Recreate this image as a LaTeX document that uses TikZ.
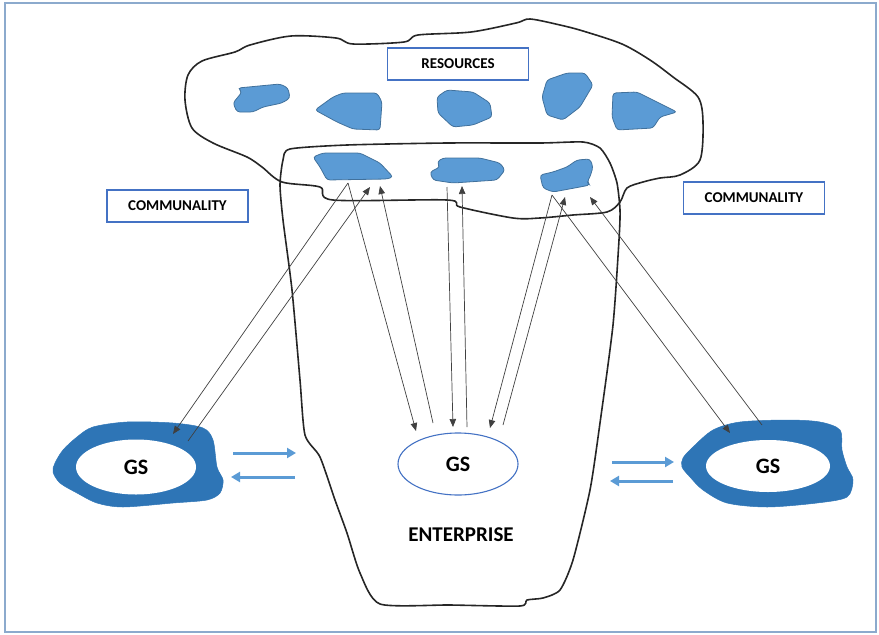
\documentclass[tikz,border=0pt]{standalone}
\usepackage{fontspec}
\setmainfont{Carlito}
\usetikzlibrary{arrows.meta,shapes.geometric}

\definecolor{resblue}{RGB}{91,155,213}
\definecolor{resedge}{RGB}{65,113,156}
\definecolor{ringblue}{RGB}{46,117,182}
\definecolor{boxblue}{RGB}{68,114,196}
\definecolor{framecol}{RGB}{140,170,205}

\begin{document}
\begin{tikzpicture}[x=1pt, y=-1pt,
    outline/.style={draw=black!85, line width=1.6pt, line join=round},
    resource/.style={fill=resblue, draw=resedge, line width=0.8pt, rounded corners=3pt},
    ring/.style={fill=ringblue, draw=ringblue, line width=0.5pt},
    tagbox/.style={draw=boxblue, line width=1.2pt, fill=white, minimum width=141pt,
        minimum height=32pt, inner sep=0pt, font=\fontsize{15}{18}\selectfont\bfseries},
    gs/.style={ellipse, fill=white, inner sep=0pt, font=\fontsize{22}{26}\selectfont\bfseries},
    link/.style={draw=black!75, line width=0.7pt, -{Triangle[length=8pt,width=6.5pt]}},
    flow/.style={draw=resblue, line width=3pt, -{Triangle[length=9pt,width=10pt]}}]

    \useasboundingbox (0,0) rectangle (879,635);
    \draw[framecol, line width=1.5pt] (5,3) rectangle (876,632);

    % resources cloud and enterprise
    \draw[outline] plot[smooth cycle, tension=0.5] coordinates {
        (282,182) (262,167) (247,157) (213,143) (192,128) (185,100) (188,75)
        (202,61) (235,52) (250,45) (291,36) (336,38) (353,44) (404,42) (418,35)
        (471,32) (516,23) (530,19) (560,25) (583,31) (622,44) (650,60) (673,77)
        (698,97) (703,122) (700,160) (680,175) (660,178) (643,182) (627,188)
        (620,202) (607,212) (573,215) (540,218) (513,218) (460,207) (447,200)
        (333,200) (320,187)};
    \draw[outline] plot[smooth cycle, tension=0.4] coordinates {
        (280,185) (283,160) (290,149) (347,145) (447,143) (540,143) (583,142)
        (600,148) (610,163) (617,183) (620,210) (619,240) (613,325) (600,423)
        (590,490) (573,560) (560,590) (543,598) (527,600) (520,606) (450,605)
        (380,604) (360,573) (347,533) (335,500) (320,457) (305,435) (300,380)
        (292,290) (283,220)};

    \draw[resource] (238,88) -- (280,84) -- (288,88) -- (290,98) -- (282,103) -- (263,107)
        -- (253,112) -- (237,112) -- (233,103) -- (238,97) -- (242,92) -- cycle;
    \draw[resource] (315,110) -- (333,97) -- (343,93) -- (377,93) -- (382,102) -- (380,130)
        -- (353,129) -- (337,122) -- cycle;
    \draw[resource] (437,97) -- (447,90) -- (473,92) -- (490,103) -- (492,117) -- (473,125)
        -- (453,127) -- (438,113) -- cycle;
    \draw[resource] (547,80) -- (567,73) -- (585,73) -- (593,85) -- (580,107) -- (563,120)
        -- (547,115) -- (542,97) -- cycle;
    \draw[resource] (613,93) -- (637,92) -- (677,112) -- (660,117) -- (653,128) -- (617,130)
        -- (612,117) -- cycle;
    \draw[resource] (313,157) -- (323,153) -- (337,153) -- (360,153) -- (380,163) -- (393,177)
        -- (387,179) -- (327,180) -- (320,167) -- cycle;
    \draw[resource] (437,162) -- (443,158) -- (480,158) -- (500,163) -- (505,170) -- (497,180)
        -- (453,183) -- (433,180) -- (430,172) -- (440,167) -- cycle;
    \draw[resource] (540,175) -- (553,172) -- (567,167) -- (577,160) -- (590,159) -- (593,167)
        -- (590,177) -- (587,182) -- (590,185) -- (580,187) -- (553,192) -- (543,188) -- cycle;

    % rings
    \draw[ring] plot[smooth cycle, tension=0.5] coordinates {
        (55,463) (63,450) (77,437) (93,427) (127,422) (173,423) (203,428) (213,440)
        (217,467) (223,480) (220,493) (207,500) (173,503) (123,507) (97,503) (77,493)
        (60,483) (53,472)};
    \draw[ring] plot[smooth cycle, tension=0.5] coordinates {
        (683,458) (693,447) (713,430) (740,422) (787,420) (820,422) (840,430) (842,450)
        (847,467) (853,480) (847,497) (817,503) (767,507) (727,503) (703,490) (690,477)
        (682,467)};

    \node (resources) [tagbox] at (458,64) {RESOURCES};
    \node (commL) [tagbox] at (177.5,206) {COMMUNALITY};
    \node (commR) [tagbox] at (754,198) {COMMUNALITY};

    \node (gsL) [gs, minimum width=120pt, minimum height=55pt] at (136,467) {GS};
    \node (gsR) [gs, minimum width=124pt, minimum height=52pt] at (768,466) {GS};
    \node (gsC) [gs, draw=boxblue, line width=1.1pt, minimum width=120pt, minimum height=62pt]
        at (458,464) {GS};
    \node (enterprise) [font=\fontsize{21}{25}\selectfont\bfseries] at (461,535) {ENTERPRISE};

    \coordinate (r6s) at (348,183);
    \coordinate (r6a) at (370,187);
    \coordinate (r6b) at (380,186);
    \coordinate (r7s) at (447,187);
    \coordinate (r7a) at (462,186);
    \coordinate (r8s) at (552,195);
    \coordinate (r8a) at (565,197);
    \coordinate (r8b) at (590,197);
    \coordinate (gsLin) at (173,434);
    \coordinate (gsLout) at (188,441);
    \coordinate (gsC1) at (416,431);
    \coordinate (gsC2) at (433,423);
    \coordinate (gsC3) at (453,427);
    \coordinate (gsC4) at (467,427);
    \coordinate (gsC5) at (490,428);
    \coordinate (gsC6) at (503,425);
    \coordinate (gsRin) at (730,433);
    \coordinate (gsRout) at (762,425);

    \draw[link] (r6s) -- (gsLin);
    \draw[link] (gsLout) -- (r6a);
    \draw[link] (r6s) -- (gsC1);
    \draw[link] (gsC2) -- (r6b);
    \draw[link] (r7s) -- (gsC3);
    \draw[link] (gsC4) -- (r7a);
    \draw[link] (r8s) -- (gsC5);
    \draw[link] (gsC6) -- (r8a);
    \draw[link] (r8s) -- (gsRin);
    \draw[link] (gsRout) -- (r8b);

    \coordinate (entL1) at (296,453);
    \coordinate (entL2) at (295,477);
    \coordinate (entR1) at (612,462);
    \coordinate (entR2) at (610,481);
    \coordinate (ringL1) at (233,453);
    \coordinate (ringL2) at (231,477);
    \coordinate (ringR1) at (674,462);
    \coordinate (ringR2) at (673,481);

    \draw[flow] (ringL1) -- (entL1);
    \draw[flow] (entL2) -- (ringL2);
    \draw[flow] (entR1) -- (ringR1);
    \draw[flow] (ringR2) -- (entR2);
\end{tikzpicture}
\end{document}
